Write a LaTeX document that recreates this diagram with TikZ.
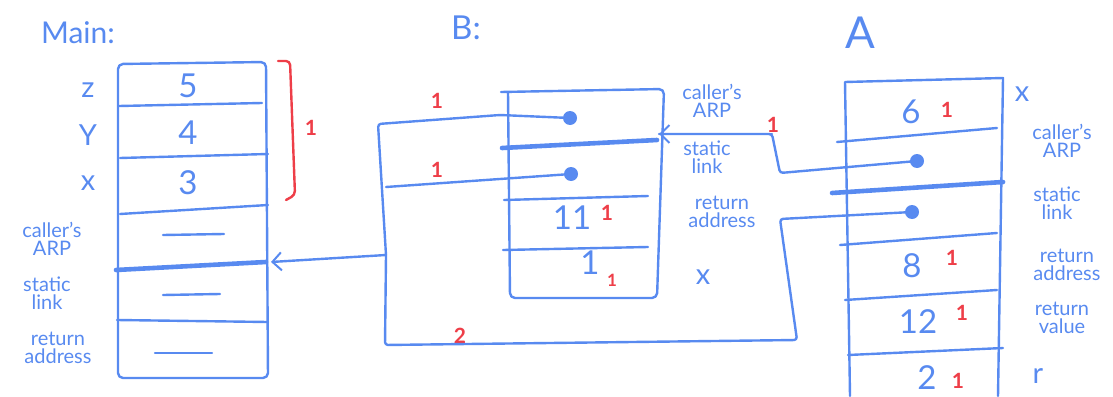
\documentclass[tikz,border=0pt]{standalone}
\usepackage{fontspec}
\setmainfont{Lato}
\usetikzlibrary{arrows.meta}
\definecolor{penblue}{RGB}{88,138,240}
\definecolor{penred}{RGB}{238,62,72}
\begin{document}
\begin{tikzpicture}[x=1pt,y=-1pt,line cap=round,line join=round,
  pen/.style={draw=penblue,line width=2.4pt},
  fatpen/.style={draw=penblue,line width=4.6pt},
  redpen/.style={draw=penred,line width=2.4pt},
  title/.style={text=penblue,font=\fontsize{30}{32}\selectfont,inner sep=0pt},
  val/.style={text=penblue,font=\fontsize{33}{35}\selectfont,inner sep=0pt},
  var/.style={text=penblue,font=\fontsize{29}{31}\selectfont,inner sep=0pt},
  lbl/.style={text=penblue,font=\fontsize{20}{18.5}\selectfont,align=center,inner sep=0pt},
  rmark/.style={text=penred,font=\bfseries\fontsize{21}{23}\selectfont,inner sep=0pt},
  dotnode/.style={circle,fill=penblue,inner sep=0pt,minimum size=14pt},
  ptr/.style={pen,-{Straight Barb[length=9pt,width=18pt,line width=2pt]}}]
\useasboundingbox (0,0) rectangle (1113,396);

% ---------------- Main ----------------
\node[title] (mainT) at (78,33) {Main:};
\draw[pen,rounded corners=5pt] (118,64) -- (266,62) -- (268,378) -- (118,378) -- cycle;
\draw[pen] (119,106) -- (262,103);
\draw[pen] (120,158) -- (268,154);
\draw[pen] (120,214) -- (268,205);
\draw[fatpen] (116,270) -- (266,262);
\draw[pen] (117,320) -- (268,322);
\draw[pen] (163,235) -- (224,234);
\draw[pen] (163,295) -- (220,294);
\draw[pen] (155,353) -- (212,353);
\node[val] (m5) at (188,86) {5};
\node[val] (m4) at (188,133) {4};
\node[val] (m3) at (188,183) {3};
\node[var] (mz) at (88,90) {z};
\node[var] (my) at (88,135) {Y};
\node[var] (mx) at (88,183) {x};
\node[lbl] (mcaller) at (52,239) {caller's\\ARP};
\node[lbl] (mstatic) at (47,293) {static\\link};
\node[lbl] (mret) at (58,348) {return\\address};
\draw[redpen,rounded corners=4pt] (278,61) -- (290,61) -- (295,195) -- (286,200);
\node[rmark] (mred) at (311,128) {1};

% ---------------- B ----------------
\node[title,font=\fontsize{33}{35}\selectfont] (bT) at (466,28) {B:};
\draw[pen,rounded corners=5pt] (501,92) -- (664,89) -- (657,298) -- (510,298) -- (508,92);
\draw[fatpen] (502,148) -- (657,140);
\draw[pen] (504,200) -- (648,196);
\draw[pen] (503,250) -- (648,247);
\node[dotnode] (bd1) at (570,118) {};
\node[dotnode] (bd2) at (571,174) {};
\node[val] (b11) at (572,218) {11};
\node[rmark] (b11r) at (607,213) {1};
\node[val] (b1) at (590,263) {1};
\node[rmark,font=\bfseries\fontsize{17}{19}\selectfont] (b1r) at (612,280) {1};
\node[lbl] (bcaller) at (712,101) {caller's\\ARP};
\node[lbl] (bstatic) at (707,157) {static\\link};
\node[lbl] (bret) at (722,212) {return\\address};
\node[var] (bx) at (703,277) {x};
\node[rmark] (br1) at (437,101) {1};
\node[rmark] (br2) at (437,170) {1};
\node[rmark] (br3) at (460,336) {2};

% ---------------- A ----------------
\node[title,font=\fontsize{44}{46}\selectfont] (aT) at (860,33) {A};
\draw[pen] (850,396) -- (845,82) -- (1003,78) -- (998,396);
\draw[pen] (837,142) -- (997,128);
\draw[fatpen] (832,193) -- (1003,182);
\draw[pen] (840,245) -- (997,233);
\draw[pen] (845,300) -- (997,290);
\draw[pen] (848,355) -- (1003,348);
\node[val] (a6) at (911,112) {6};
\node[rmark] (a6r) at (947,110) {1};
\node[dotnode] (ad1) at (917,161) {};
\node[dotnode] (ad2) at (912,212) {};
\node[val] (a8) at (912,266) {8};
\node[rmark] (a8r) at (952,258) {1};
\node[val] (a12) at (918,322) {12};
\node[rmark] (a12r) at (962,313) {1};
\node[val] (a2) at (927,378) {2};
\node[rmark] (a2r) at (958,381) {1};
\node[var] (ax) at (1022,94) {x};
\node[lbl] (acaller) at (1062,141) {caller's\\ARP};
\node[lbl] (astatic) at (1057,203) {static\\link};
\node[lbl] (aret) at (1067,265) {return\\address};
\node[lbl] (aval) at (1062,318) {return\\value};
\node[var] (ar) at (1038,376) {r};
\node[rmark] (ared) at (773,125) {1};

% ---------------- connectors ----------------
\coordinate (l1) at (378,124);
\coordinate (ljoin) at (386,255);
\coordinate (l2) at (386,187);
\coordinate (lbot) at (385,345);
\coordinate (rbot) at (797,340);
\coordinate (rtop) at (780,219);
\coordinate (mainin) at (271,262);
\coordinate (bin) at (659,134);
\coordinate (ac1) at (780,173);
\coordinate (ac2) at (772,134);
\draw[pen,rounded corners=3pt] (bd1.center) -- (500,115) -- (l1) -- (ljoin) -- (lbot) -- (rbot) -- (rtop) -- (ad2.center);
\draw[pen] (bd2.center) -- (l2);
\draw[ptr] (ljoin) -- (mainin);
\draw[pen,rounded corners=3pt] (ad1.center) -- (ac1) -- (ac2) -- (bin);
\draw[ptr] (ac2) -- (bin);
\end{tikzpicture}
\end{document}
